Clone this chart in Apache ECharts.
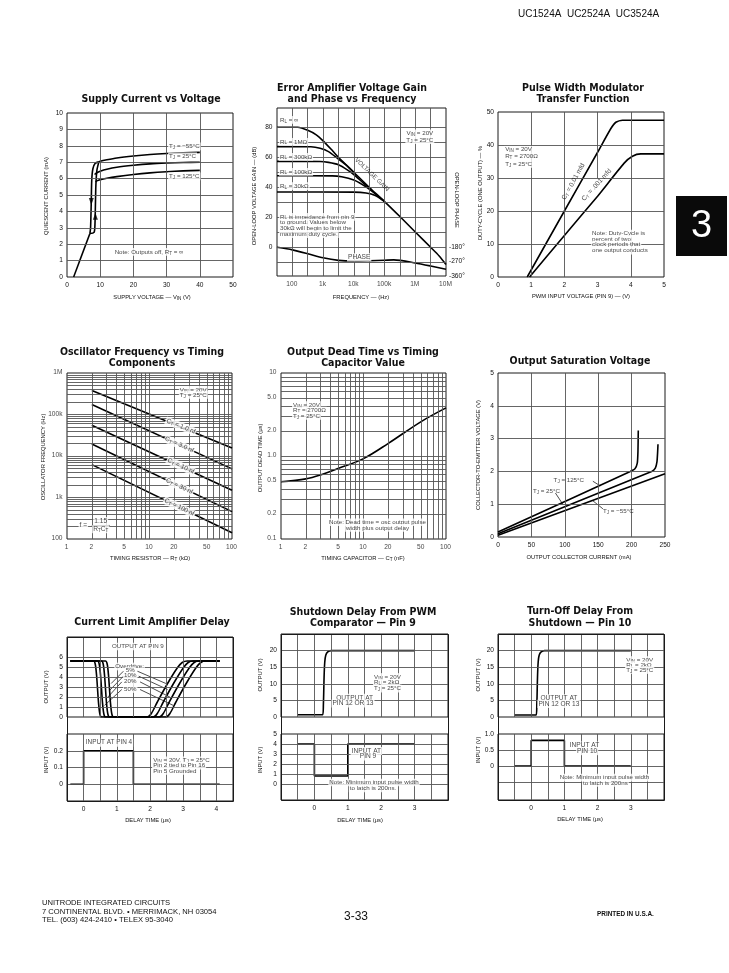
<!DOCTYPE html>
<html><head><meta charset="utf-8">
<script src="https://cdn.jsdelivr.net/npm/echarts@6/dist/echarts.min.js"></script>
<style>html,body{margin:0;padding:0;background:#fff}#c{width:729px;height:973px}</style>
</head><body><div id="c"></div>
<script>
// ================= DATA =================
// 1. Supply Current vs Voltage
const supXTicks = [0, 10, 20, 30, 40, 50];
const supYTicks = [0, 1, 2, 3, 4, 5, 6, 7, 8, 9, 10];
const supXGrid = [10, 20, 30, 40];
const supYGrid = [1, 2, 3, 4, 5, 6, 7, 8, 9];
const supStartup = [[2, 0], [6.9, 2.65]];
const supLoopDown = [[6.9, 2.65], [7.1, 3.0], [7.3, 4.5], [7.45, 5.9], [7.8, 6.6], [8.5, 6.93], [9.6, 7.02]];
const supLoopUp = [[6.9, 2.65], [8.15, 2.72], [8.4, 3.1], [8.55, 4.3], [8.7, 5.6], [9.0, 6.5], [9.6, 7.02]];
const supArrowDown = [[7.32, 4.6]];
const supArrowUp = [[8.55, 3.7]];
const supTjM55 = [[9.6, 7.02], [10, 7.06], [12, 7.15], [15, 7.26], [20, 7.38], [25, 7.47], [30, 7.53], [35, 7.57], [40, 7.6]];
const supTj25 = [[8.3, 6.25], [9, 6.36], [10, 6.45], [12, 6.57], [15, 6.69], [20, 6.81], [25, 6.9], [30, 6.95], [35, 6.98], [40, 7.0]];
const supTj125 = [[8.6, 5.8], [9, 5.86], [10, 5.93], [12, 6.02], [15, 6.12], [20, 6.25], [25, 6.35], [30, 6.42], [35, 6.47], [40, 6.5]];

// 2. Error Amplifier Voltage Gain and Phase vs Frequency
const eaFreqTicks = [100, 1000, 10000, 100000, 1000000, 10000000];
const eaFreqLabels = ['100', '1k', '10k', '100k', '1M', '10M'];
const eaGainTicks = [0, 20, 40, 60, 80];
const eaPhaseTicks = [-180, -270, -360];
const eaXGrid = [100, 316.2, 1000, 3162, 10000, 31623, 100000, 316228, 1000000, 3162278];
const eaYGrid = [-10, 0, 10, 20, 30, 40, 50, 60, 70, 80];
const eaGainInf = [[31.6, 80], [150, 80], [316, 78], [600, 75], [1000, 71], [2000, 64.5], [3162, 60], [10000, 50], [31623, 40], [100000, 30.5], [316228, 20.5], [1000000, 10.2], [3162278, 0], [6000000, -5.8], [10000000, -11.5]];
const eaGain1M = [[31.6, 67.1], [400, 67], [800, 66], [1500, 63.8], [3162, 58.8], [6310, 54], [10000, 49.9]];
const eaGain300k = [[31.6, 57.3], [800, 57.2], [1500, 56.6], [3162, 55], [6310, 51.5], [10000, 48.5], [20000, 43], [31623, 39.6]];
const eaGain100k = [[31.6, 47.7], [2000, 47.6], [4000, 47], [10000, 44.8], [20000, 41.5], [31623, 38.8], [63000, 34], [100000, 30.4]];
const eaGain30k = [[31.6, 36.9], [10000, 36.8], [25000, 36.2], [50000, 34.5], [100000, 30.6]];
const eaPhase = [[31.6, -180], [100, -196], [316, -220], [1000, -246], [3162, -262], [10000, -266], [31623, -264], [100000, -261], [200000, -259], [1000000, -278], [3162278, -297], [10000000, -318]];

// 3. Pulse Width Modulator Transfer Function
const pwmXTicks = [0, 1, 2, 3, 4, 5];
const pwmYTicks = [0, 10, 20, 30, 40, 50];
const pwmXGrid = [1, 2, 4];
const pwmYGrid = [10, 20, 30, 40];
const pwmCt01 = [[0.88, 0], [2, 20], [3, 37.8], [3.4, 45], [3.55, 46.9], [3.75, 47.5], [5, 47.5]];
const pwmCt001 = [[0.95, 0], [2, 12.6], [3, 24.5], [3.8, 34.5], [4.05, 36.6], [4.3, 37.3], [5, 37.3]];

// 4. Oscillator Frequency vs Timing Components
const oscXTicks = [1, 2, 5, 10, 20, 50, 100];
const oscYTicks = [100, 1000, 10000, 100000, 1000000];
const oscYLabels = ['100', '1k', '10k', '100k', '1M'];
const oscXGrid = [2, 3, 4, 5, 6, 7, 8, 9, 10, 20, 30, 40, 50, 60, 70, 80, 90];
const oscYGrid = [200, 300, 400, 500, 600, 700, 800, 900, 1000, 2000, 3000, 4000, 5000, 6000, 7000, 8000, 9000,
  10000, 20000, 30000, 40000, 50000, 60000, 70000, 80000, 90000, 100000, 200000, 300000, 400000, 500000, 600000, 700000, 800000, 900000];
const oscCt1n = [[2, 380000], [100, 15500]];
const oscCt3n = [[2, 174000], [100, 4900]];
const oscCt10n = [[2, 55000], [100, 1500]];
const oscCt30n = [[2, 19400], [100, 457]];
const oscCt100n = [[2, 6200], [100, 141]];

// 5. Output Dead Time vs Timing Capacitor Value
const dtXTicks = [1, 2, 5, 10, 20, 50, 100];
const dtYTicks = [0.1, 0.2, 0.5, 1, 2, 5, 10];
const dtYLabels = ['0.1', '0.2', '0.5', '1.0', '2.0', '5.0', '10'];
const dtXGrid = [2, 3, 4, 5, 6, 7, 8, 9, 10, 20, 30, 40, 50, 60, 70, 80, 90];
const dtYGrid = [0.2, 0.3, 0.4, 0.5, 0.6, 0.7, 0.8, 0.9, 1, 2, 3, 4, 5, 6, 7, 8, 9];
const deadTime = [[1, 0.49], [2, 0.53], [3, 0.59], [5, 0.71], [10, 0.93], [20, 1.42], [50, 2.6], [100, 3.8]];

// 6. Output Saturation Voltage
const satXTicks = [0, 50, 100, 150, 200, 250];
const satYTicks = [0, 1, 2, 3, 4, 5];
const satXGrid = [50, 100, 150, 200];
const satYGrid = [1, 2, 3, 4];
const sat125 = [[0, 0.15], [198, 2.0], [205, 2.08], [208.5, 2.25], [209.5, 2.6], [210, 3.25]];
const sat25 = [[0, 0.1], [230, 2.0], [235.5, 2.1], [238, 2.3], [239, 2.6], [239.5, 2.83]];
const satM55 = [[0, 0.05], [250, 1.93]];

// 7. Current Limit Amplifier Delay
const clXTicks = [0, 1, 2, 3, 4];
const clXGrid = [0, 0.5, 1, 1.5, 2, 2.5, 3, 3.5, 4];
const clOutTicks = [0, 1, 2, 3, 4, 5, 6];
const clOutGrid = [1, 2, 3, 4, 5, 6];
const clInTicks = [0, 0.1, 0.2];
const clInGrid = [0, 0.1, 0.2];
const clOd50 = [[-0.4, 5.6], [0.3, 5.6], [0.35, 5.3], [0.39, 4.2], [0.45, 1.4], [0.49, 0.3], [0.54, 0], [1.92, 0], [2.04, 0.35], [2.22, 1.5], [2.52, 3.3], [2.82, 4.9], [2.97, 5.45], [3.12, 5.6], [4.1, 5.6]];
const clOd20 = [[-0.4, 5.6], [0.42, 5.6], [0.47, 5.3], [0.51, 4.2], [0.57, 1.4], [0.61, 0.3], [0.66, 0], [2.1, 0], [2.22, 0.35], [2.4, 1.5], [2.7, 3.3], [3.0, 4.9], [3.15, 5.45], [3.3, 5.6], [4.1, 5.6]];
const clOd10 = [[-0.4, 5.6], [0.54, 5.6], [0.59, 5.3], [0.63, 4.2], [0.69, 1.4], [0.73, 0.3], [0.78, 0], [2.28, 0], [2.4, 0.35], [2.58, 1.5], [2.88, 3.3], [3.18, 4.9], [3.33, 5.45], [3.48, 5.6], [4.1, 5.6]];
const clOd5 = [[-0.4, 5.6], [0.66, 5.6], [0.71, 5.3], [0.75, 4.2], [0.81, 1.4], [0.85, 0.3], [0.9, 0], [2.48, 0], [2.6, 0.35], [2.78, 1.5], [3.08, 3.3], [3.38, 4.9], [3.53, 5.45], [3.68, 5.6], [4.1, 5.6]];
const clInput = [[-0.4, 0], [0, 0], [0, 0.2], [1.5, 0.2], [1.5, 0], [4.1, 0]];

// 8. Shutdown Delay From PWM Comparator - Pin 9
const sdXTicks = [0, 1, 2, 3];
const sdXGrid = [-0.5, 0, 0.5, 1, 1.5, 2, 2.5, 3, 3.5];
const sdOutTicks = [0, 5, 10, 15, 20];
const sdOutGrid = [5, 10, 15, 20];
const sdInTicks = [0, 1, 2, 3, 4, 5];
const sdInGrid = [0, 1, 2, 3, 4];
const sdOutput = [[-0.5, 0.7], [0.25, 0.7], [0.27, 4], [0.29, 12], [0.31, 16.5], [0.34, 18.6], [0.4, 19.6], [0.5, 20], [3, 20]];
const sdInput = [[-0.5, 4], [0, 4], [0, 0.8], [1, 0.8], [1, 4], [3, 4]];

// 9. Turn-Off Delay From Shutdown - Pin 10
const toXTicks = [0, 1, 2, 3];
const toXGrid = [-0.5, 0, 0.5, 1, 1.5, 2, 2.5, 3, 3.5];
const toOutTicks = [0, 5, 10, 15, 20];
const toOutGrid = [5, 10, 15, 20];
const toInTicks = [0, 0.5, 1.0];
const toInGrid = [-0.5, 0, 0.5];
const toOutput = [[-0.5, 0.6], [0.15, 0.6], [0.17, 4], [0.19, 12], [0.21, 16.5], [0.24, 18.6], [0.3, 19.6], [0.4, 20], [3, 20]];
const toInput = [[-0.5, 0], [0, 0], [0, 0.8], [1, 0.8], [1, 0], [3, 0]];

// ================= BUILD =================
const FONT = '"Liberation Sans", Arial, Helvetica, sans-serif';
const NARROW = '"Liberation Sans Narrow", "Arial Narrow", "DejaVu Sans Condensed", sans-serif';
const INK = '#111';
const GRIDC = '#555';
const RICH = { s: { fontSize: 4.6, verticalAlign: 'bottom', fontFamily: FONT, color: INK, padding: [3, 0, 0, 0] } };

const grids = [], xAxis = [], yAxis = [], series = [], graphic = [];

function addGrid(r) {
  grids.push({ left: r[0], top: r[1], width: r[2] - r[0], height: r[3] - r[1], show: true,
    borderColor: '#1a1a1a', borderWidth: 1, backgroundColor: 'rgba(0,0,0,0)', containLabel: false });
  return grids.length - 1;
}
function addAxis(list, gi, cfg) {
  const base = { gridIndex: gi, axisLine: { show: false }, axisTick: { show: false }, splitLine: { show: false }, axisLabel: { show: false } };
  list.push(Object.assign(base, cfg));
  return list.length - 1;
}
function tl(vals, fmt, margin) {
  const o = { show: true, customValues: vals, fontSize: 6.6, color: INK, fontFamily: FONT, margin: margin == null ? 4 : margin,
    showMinLabel: true, showMaxLabel: true, hideOverlap: false };
  if (fmt) o.formatter = fmt;
  return o;
}
function panel(rect, xa, ya) {
  const gi = addGrid(rect);
  return { gi, xi: addAxis(xAxis, gi, xa), yi: addAxis(yAxis, gi, ya) };
}
function gridLines(p, xs, ys, segs, yi) {
  const data = [];
  xs.forEach(v => data.push({ xAxis: v }));
  ys.forEach(v => data.push({ yAxis: v }));
  (segs || []).forEach(s => data.push([{ coord: s[0] }, { coord: s[1] }]));
  series.push({ type: 'line', xAxisIndex: p.xi, yAxisIndex: yi == null ? p.yi : yi, data: [], silent: true, z: 1, symbol: 'none', animation: false,
    markLine: { silent: true, symbol: ['none', 'none'], label: { show: false }, animation: false,
      lineStyle: { color: GRIDC, width: 0.9, type: 'solid' }, data } });
}
function curve(p, data, opt, yi) {
  series.push(Object.assign({ type: 'line', xAxisIndex: p.xi, yAxisIndex: yi == null ? p.yi : yi, data, symbol: 'none', showSymbol: false,
    silent: true, z: 3, animation: false, smooth: 0.25, lineStyle: { color: '#000', width: 1.6 } }, opt || {}));
}
function leader(p, a, b) {
  curve(p, [a, b], { smooth: false, lineStyle: { color: '#000', width: 0.7 } });
}
function notes(p, items, yi, z) {
  series.push({ type: 'scatter', xAxisIndex: p.xi, yAxisIndex: yi == null ? p.yi : yi, symbolSize: 1, silent: true, z: z || 5, animation: false,
    itemStyle: { color: 'rgba(0,0,0,0)' },
    data: items.map(it => {
      const lab = { show: true, formatter: () => it.t, fontSize: it.size || 6.2, fontFamily: FONT, color: INK,
        fontWeight: it.bold ? 'bold' : 'normal', rich: RICH, lineHeight: (it.size || 6.2) + 1.5 };
      if (it.rot != null) { lab.position = 'inside'; lab.rotate = it.rot; lab.align = 'center'; lab.verticalAlign = 'middle'; }
      else { lab.position = [it.dx || 0, it.dy || 0]; lab.align = it.al || 'left'; lab.verticalAlign = it.va || 'middle'; }
      if (it.bg) { lab.backgroundColor = '#fff'; lab.padding = [0, 1, 0, 1]; }
      return { value: it.at, label: lab };
    }) });
}
function gtext(x, y, text, o) {
  o = o || {};
  graphic.push({ type: 'text', x, y, rotation: o.rot || 0, silent: true, z: 10,
    style: { text, fill: INK, fontSize: o.size || 6, fontWeight: o.bold ? 'bold' : 'normal', fontFamily: o.family || FONT,
      align: o.al || 'center', verticalAlign: 'middle', rich: RICH, lineHeight: o.lh } });
}
function frame(x1, y1, x2, y2) {
  graphic.push({ type: 'rect', silent: true, z: 9, shape: { x: x1 + 0.5, y: y1 + 0.5, width: x2 - x1, height: y2 - y1 },
    style: { fill: 'none', stroke: '#1a1a1a', lineWidth: 1 } });
}
const TITLE = { size: 10.5, bold: true, family: NARROW };
const ANAME = { size: 5.8 };
const VNAME = { size: 5.8, rot: Math.PI / 2 };

// ---------- 1. Supply current ----------
const p1 = panel([67, 113, 233, 277],
  { type: 'value', min: 0, max: 50, axisLabel: tl(supXTicks, null, 5) },
  { type: 'value', min: 0, max: 10, axisLabel: tl(supYTicks) });
gridLines(p1, supXGrid, supYGrid);
curve(p1, supStartup, { smooth: false });
curve(p1, supLoopDown); curve(p1, supLoopUp);
curve(p1, supTjM55); curve(p1, supTj25); curve(p1, supTj125);
series.push({ type: 'scatter', xAxisIndex: p1.xi, yAxisIndex: p1.yi, data: supArrowDown, symbol: 'triangle', symbolRotate: 180, symbolSize: [5, 7], itemStyle: { color: '#000' }, z: 4, silent: true, animation: false });
series.push({ type: 'scatter', xAxisIndex: p1.xi, yAxisIndex: p1.yi, data: supArrowUp, symbol: 'triangle', symbolSize: [5, 7], itemStyle: { color: '#000' }, z: 4, silent: true, animation: false });
notes(p1, [
  { at: [30.6, 7.93], t: 'T{s|J} = −55°C', bg: true },
  { at: [30.6, 7.33], t: 'T{s|J} = 25°C', bg: true },
  { at: [30.6, 6.1], t: 'T{s|J} = 125°C', bg: true },
  { at: [14.2, 1.5], t: 'Note: Outputs off, R{s|T} = ∞', bg: true }
]);
gtext(151, 99, 'Supply Current vs Voltage', TITLE);
gtext(46, 196, 'QUIESCENT CURRENT (mA)', VNAME);
gtext(152, 297, 'SUPPLY VOLTAGE — V{s|IN} (V)', ANAME);

// ---------- 2. Error amplifier ----------
const p2 = panel([277, 108, 446, 276],
  { type: 'log', logBase: 10, min: 31.62, max: 10000000 },
  { type: 'value', min: -19.13, max: 92.87, axisLabel: tl(eaGainTicks, null, 4.5) });
const p2phase = addAxis(yAxis, p2.gi, { type: 'value', position: 'right', min: -360, max: 694,
  axisLabel: tl(eaPhaseTicks, v => '-' + Math.abs(v) + '°', 3) });
gridLines(p2, eaXGrid, eaYGrid);
curve(p2, eaGainInf); curve(p2, eaGain1M); curve(p2, eaGain300k); curve(p2, eaGain100k); curve(p2, eaGain30k);
curve(p2, eaPhase, null, p2phase);
notes(p2, eaFreqTicks.map((v, i) => ({ at: [v, -19.13], t: eaFreqLabels[i], al: 'center', va: 'top', dy: 5, size: 6.6 })));
notes(p2, [
  { at: [38, 84.6], t: 'R{s|L} = ∞', bg: true },
  { at: [38, 70], t: 'R{s|L} = 1MΩ', bg: true },
  { at: [38, 60], t: 'R{s|L} = 300kΩ', bg: true },
  { at: [38, 50], t: 'R{s|L} = 100kΩ', bg: true },
  { at: [38, 40.5], t: 'R{s|L} = 30kΩ', bg: true },
  { at: [38, 20], t: 'R{s|L} is impedance from pin 9', bg: true },
  { at: [38, 16.2], t: 'to ground. Values below', bg: true },
  { at: [38, 12.4], t: '30kΩ will begin to limit the', bg: true },
  { at: [38, 8.5], t: 'maximum duty cycle.', bg: true },
  { at: [1460000, 75.6], t: 'V{s|IN} = 20V', al: 'center', bg: true },
  { at: [1460000, 71.1], t: 'T{s|J} = 25°C', al: 'center', bg: true },
  { at: [15500, -7], t: 'PHASE', al: 'center', bg: true, size: 6.6 },
  { at: [39000, 48.4], t: 'VOLTAGE GAIN', rot: -44, size: 6.2 }
]);
gtext(352, 88.5, 'Error Amplifier Voltage Gain', TITLE);
gtext(352, 99.5, 'and Phase vs Frequency', TITLE);
gtext(254, 196, 'OPEN-LOOP VOLTAGE GAIN — (dB)', VNAME);
gtext(457, 200, 'OPEN-LOOP PHASE', { size: 5.8, rot: -Math.PI / 2 });
gtext(361, 297, 'FREQUENCY — (Hz)', ANAME);

// ---------- 3. PWM transfer ----------
const p3 = panel([498, 112, 664, 277],
  { type: 'value', min: 0, max: 5, axisLabel: tl(pwmXTicks, null, 5) },
  { type: 'value', min: 0, max: 50, axisLabel: tl(pwmYTicks) });
gridLines(p3, pwmXGrid, pwmYGrid, [[[3, 30], [3, 50]]]);
curve(p3, pwmCt01, { smooth: 0.2 }); curve(p3, pwmCt001, { smooth: 0.2 });
notes(p3, [
  { at: [0.2, 38.4], t: 'V{s|IN} = 20V', bg: true },
  { at: [0.2, 36.3], t: 'R{s|T} = 2700Ω', bg: true },
  { at: [0.2, 34.1], t: 'T{s|J} = 25°C', bg: true },
  { at: [2.27, 28.9], t: 'C{s|T} = 0.01 mfd', rot: 61, size: 6.6 },
  { at: [2.97, 27.9], t: 'C{s|T} = .001 mfd', rot: 48, size: 6.6 },
  { at: [2.82, 13.0], t: 'Note: Duty-Cycle is', bg: true },
  { at: [2.82, 11.4], t: 'percent of two', bg: true },
  { at: [2.82, 9.7], t: 'clock periods that', bg: true },
  { at: [2.82, 7.8], t: 'one output conducts', bg: true }
]);
gtext(583, 88.5, 'Pulse Width Modulator', TITLE);
gtext(583, 99.5, 'Transfer Function', TITLE);
gtext(480, 193, 'DUTY-CYCLE (ONE OUTPUT) — %', VNAME);
gtext(581, 296, 'PWM INPUT VOLTAGE (PIN 9) — (V)', ANAME);

// ---------- 4. Oscillator frequency ----------
const p4 = panel([67, 373, 232, 539],
  { type: 'log', logBase: 10, min: 1, max: 100 },
  { type: 'log', logBase: 10, min: 100, max: 1000000 });
gridLines(p4, oscXGrid, oscYGrid);
[oscCt1n, oscCt3n, oscCt10n, oscCt30n, oscCt100n].forEach(d => curve(p4, d, { smooth: false }));
notes(p4, oscXTicks.map(v => ({ at: [v, 100], t: String(v), al: 'center', va: 'top', dy: 5, size: 6.6 })));
notes(p4, oscYTicks.map((v, i) => ({ at: [1, v], t: oscYLabels[i], al: 'right', dx: -4, size: 6.6 })));
notes(p4, [
  { at: [23, 380000], t: 'V{s|IN} = 20V', bg: true },
  { at: [23, 288000], t: 'T{s|J} = 25°C', bg: true },
  { at: [24, 52000], t: 'C{s|T} = 1.0 nf', rot: -22, bg: true, size: 6.4 },
  { at: [23, 18700], t: 'C{s|T} = 3.0 nf', rot: -24, bg: true, size: 6.4 },
  { at: [24, 5700], t: 'C{s|T} = 10 nf', rot: -25, bg: true, size: 6.4 },
  { at: [23, 1870], t: 'C{s|T} = 30 nf', rot: -26, bg: true, size: 6.4 },
  { at: [23, 585], t: 'C{s|T} = 100 nf', rot: -26, bg: true, size: 6.4 },
  { at: [1.4, 212], t: 'f =', bg: true, size: 6.6 },
  { at: [2.6, 262], t: '1.15', al: 'center', bg: true, size: 6.6 },
  { at: [2.6, 168], t: 'R{s|T}C{s|T}', al: 'center', bg: true, size: 6.6 }
]);
leader(p4, [2.0, 212], [3.3, 212]);
gtext(142, 352.5, 'Oscillator Frequency vs Timing', TITLE);
gtext(142, 363, 'Components', TITLE);
gtext(43, 457, 'OSCILLATOR FREQUENCY (Hz)', VNAME);
gtext(150, 558, 'TIMING RESISTOR — R{s|T} (kΩ)', ANAME);

// ---------- 5. Output dead time ----------
const p5 = panel([281, 373, 446, 539],
  { type: 'log', logBase: 10, min: 1, max: 100 },
  { type: 'log', logBase: 10, min: 0.1, max: 10 });
gridLines(p5, dtXGrid, dtYGrid);
curve(p5, deadTime, { smooth: 0.35 });
notes(p5, dtXTicks.map(v => ({ at: [v, 0.1], t: String(v), al: 'center', va: 'top', dy: 5, size: 6.6 })));
notes(p5, dtYTicks.map((v, i) => ({ at: [1, v], t: dtYLabels[i], al: 'right', dx: -4, size: 6.6 })));
notes(p5, [
  { at: [1.38, 4.05], t: 'V{s|IN} = 20V', bg: true },
  { at: [1.38, 3.48], t: 'R{s|T} = 2700Ω', bg: true },
  { at: [1.38, 3.0], t: 'T{s|J} = 25°C', bg: true },
  { at: [15, 0.157], t: 'Note: Dead time = osc output pulse', al: 'center', bg: true },
  { at: [15, 0.134], t: 'width plus output delay', al: 'center', bg: true }
]);
gtext(363, 352.5, 'Output Dead Time vs Timing', TITLE);
gtext(363, 363, 'Capacitor Value', TITLE);
gtext(260, 458, 'OUTPUT DEAD TIME (μs)', VNAME);
gtext(363, 558, 'TIMING CAPACITOR — C{s|T} (nF)', ANAME);

// ---------- 6. Output saturation ----------
const p6 = panel([498, 373, 665, 537],
  { type: 'value', min: 0, max: 250, axisLabel: tl(satXTicks, null, 5) },
  { type: 'value', min: 0, max: 5, axisLabel: tl(satYTicks) });
gridLines(p6, satXGrid, satYGrid);
curve(p6, sat125, { smooth: 0.2 }); curve(p6, sat25, { smooth: 0.2 }); curve(p6, satM55, { smooth: false });
leader(p6, [142, 1.7], [153, 1.56]);
leader(p6, [86, 1.34], [97, 1.0]);
leader(p6, [157, 0.86], [141, 1.12]);
notes(p6, [
  { at: [84, 1.72], t: 'T{s|J} = 125°C' },
  { at: [53, 1.39], t: 'T{s|J} = 25°C' },
  { at: [158, 0.78], t: 'T{s|J} = −55°C' }
]);
gtext(580, 361.5, 'Output Saturation Voltage', TITLE);
gtext(478, 455, 'COLLECTOR-TO-EMITTER VOLTAGE (V)', VNAME);
gtext(579, 557, 'OUTPUT COLLECTOR CURRENT (mA)', ANAME);

// ---------- 7. Current limit amplifier delay ----------
const p7u = panel([67, 637, 233, 717],
  { type: 'value', min: -0.5, max: 4.5 },
  { type: 'value', min: 0, max: 8, axisLabel: tl(clOutTicks) });
const p7l = panel([67, 734, 233, 801],
  { type: 'value', min: -0.5, max: 4.5, axisLabel: tl(clXTicks, null, 5) },
  { type: 'value', min: -0.1, max: 0.3, axisLabel: tl(clInTicks, v => v === 0 ? '0' : v.toFixed(1)) });
frame(67, 637, 233, 801);
gridLines(p7u, clXGrid, clOutGrid);
gridLines(p7l, clXGrid, clInGrid);
[clOd50, clOd20, clOd10, clOd5].forEach(d => curve(p7u, d, { smooth: 0.3 }));
curve(p7l, clInput, { smooth: false });
leader(p7u, [1.2, 4.58], [0.83, 3.35]);
leader(p7u, [1.2, 4.08], [0.78, 2.65]);
leader(p7u, [1.15, 3.51], [0.73, 1.99]);
leader(p7u, [1.15, 2.75], [0.63, 1.16]);
leader(p7u, [1.62, 4.58], [2.48, 3.35]);
leader(p7u, [1.66, 4.08], [2.53, 2.75]);
leader(p7u, [1.7, 3.51], [2.6, 1.99]);
leader(p7u, [1.7, 2.75], [2.7, 1.16]);
notes(p7u, [
  { at: [1.65, 7.0], t: 'OUTPUT AT PIN 9', al: 'center', bg: true },
  { at: [1.4, 5.0], t: 'Overdrive:', al: 'center', bg: true },
  { at: [1.42, 4.58], t: '5%', al: 'center', bg: true },
  { at: [1.42, 4.08], t: '10%', al: 'center', bg: true },
  { at: [1.42, 3.51], t: '20%', al: 'center', bg: true },
  { at: [1.42, 2.75], t: '50%', al: 'center', bg: true }
]);
notes(p7l, [
  { at: [0.05, 0.245], t: 'INPUT AT PIN 4', bg: true, size: 6.4 },
  { at: [2.08, 0.14], t: 'V{s|IN} = 20V, T{s|J} = 25°C', bg: true },
  { at: [2.08, 0.108], t: 'Pin 2 tied to Pin 16', bg: true },
  { at: [2.08, 0.076], t: 'Pin 5 Grounded', bg: true }
]);
gtext(152, 622.5, 'Current Limit Amplifier Delay', TITLE);
gtext(46, 687, 'OUTPUT (V)', VNAME);
gtext(46, 760, 'INPUT (V)', VNAME);
gtext(148, 820, 'DELAY TIME (μs)', ANAME);

// ---------- 8. Shutdown delay ----------
const p8u = panel([281, 634, 448, 717],
  { type: 'value', min: -1, max: 4 },
  { type: 'value', min: 0, max: 25, axisLabel: tl(sdOutTicks) });
const p8l = panel([281, 734, 448, 800],
  { type: 'value', min: -1, max: 4, axisLabel: tl(sdXTicks, null, 5) },
  { type: 'value', min: -1.6, max: 5, axisLabel: tl(sdInTicks) });
frame(281, 634, 448, 800);
gridLines(p8u, sdXGrid, sdOutGrid);
gridLines(p8l, sdXGrid, sdInGrid);
curve(p8u, sdOutput, { smooth: 0.35 });
curve(p8l, sdInput, { smooth: false });
notes(p8u, [
  { at: [1.77, 11.9], t: 'V{s|IN} = 20V', bg: true },
  { at: [1.77, 10.2], t: 'R{s|L} = 2kΩ', bg: true },
  { at: [1.77, 8.4], t: 'T{s|J} = 25°C', bg: true },
  { at: [1.22, 5.6], t: 'OUTPUT AT', al: 'center', bg: true, size: 6.6 },
  { at: [1.17, 3.9], t: 'PIN 12 OR 13', al: 'center', bg: true, size: 6.6 }
]);
notes(p8l, [
  { at: [1.57, 3.25], t: 'INPUT AT', al: 'center', bg: true, size: 6.6 },
  { at: [1.62, 2.7], t: 'PIN 9', al: 'center', bg: true, size: 6.6 },
  { at: [1.8, 0.1], t: 'Note: Minimum input pulse width', al: 'center', bg: true },
  { at: [1.77, -0.5], t: 'to latch is 200ns.', al: 'center', bg: true }
]);
gtext(363, 612.5, 'Shutdown Delay From PWM', TITLE);
gtext(363, 623, 'Comparator — Pin 9', TITLE);
gtext(260, 675, 'OUTPUT (V)', VNAME);
gtext(260, 760, 'INPUT (V)', VNAME);
gtext(360, 820, 'DELAY TIME (μs)', ANAME);

// ---------- 9. Turn-off delay ----------
const p9u = panel([498, 634, 664, 717],
  { type: 'value', min: -1, max: 4 },
  { type: 'value', min: 0, max: 25, axisLabel: tl(toOutTicks) });
const p9l = panel([498, 734, 664, 800],
  { type: 'value', min: -1, max: 4, axisLabel: tl(toXTicks, null, 5) },
  { type: 'value', min: -1.06, max: 1.0, axisLabel: tl(toInTicks, v => v === 0 ? '0' : v.toFixed(1)) });
frame(498, 634, 664, 800);
gridLines(p9u, toXGrid, toOutGrid);
gridLines(p9l, toXGrid, toInGrid);
curve(p9u, toOutput, { smooth: 0.35 });
curve(p9l, toInput, { smooth: false });
notes(p9u, [
  { at: [2.85, 17.0], t: 'V{s|IN} = 20V', bg: true },
  { at: [2.85, 15.5], t: 'R{s|L} = 2kΩ', bg: true },
  { at: [2.85, 14.0], t: 'T{s|J} = 25°C', bg: true },
  { at: [0.85, 5.45], t: 'OUTPUT AT', al: 'center', bg: true, size: 6.6 },
  { at: [0.85, 3.8], t: 'PIN 12 OR 13', al: 'center', bg: true, size: 6.6 }
]);
notes(p9l, [
  { at: [1.62, 0.625], t: 'INPUT AT', al: 'center', bg: true, size: 6.6 },
  { at: [1.7, 0.45], t: 'PIN 10', al: 'center', bg: true, size: 6.6 },
  { at: [2.22, -0.38], t: 'Note: Minimum input pulse width', al: 'center', bg: true },
  { at: [2.25, -0.54], t: 'to latch is 200ns', al: 'center', bg: true }
]);
gtext(580, 611.5, 'Turn-Off Delay From', TITLE);
gtext(580, 623, 'Shutdown — Pin 10', TITLE);
gtext(478, 675, 'OUTPUT (V)', VNAME);
gtext(478, 750, 'INPUT (V)', VNAME);
gtext(580, 819, 'DELAY TIME (μs)', ANAME);

// ---------- page furniture ----------
gtext(518, 14, 'UC1524A  UC2524A  UC3524A', { size: 10, al: 'left' });
graphic.push({ type: 'rect', silent: true, z: 9, shape: { x: 676, y: 196, width: 51, height: 60 }, style: { fill: '#0a0a0a' } });
graphic.push({ type: 'text', x: 701.5, y: 227, silent: true, z: 10, style: { text: '3', fill: '#fff', fontSize: 38, fontFamily: FONT, align: 'center', verticalAlign: 'middle' } });
gtext(42, 903, 'UNITRODE INTEGRATED CIRCUITS', { size: 7.6, al: 'left' });
gtext(42, 911.5, '7 CONTINENTAL BLVD. • MERRIMACK, NH 03054', { size: 7.6, al: 'left' });
gtext(42, 920, 'TEL. (603) 424-2410 • TELEX 95-3040', { size: 7.6, al: 'left' });
gtext(356, 917, '3-33', { size: 12 });
gtext(597, 914, 'PRINTED IN U.S.A.', { size: 6.4, al: 'left', bold: true });

const chart = echarts.init(document.getElementById('c'), null, { renderer: 'canvas' });
chart.setOption({ animation: false, backgroundColor: '#fff', grid: grids, xAxis, yAxis, series, graphic });
</script></body></html>
